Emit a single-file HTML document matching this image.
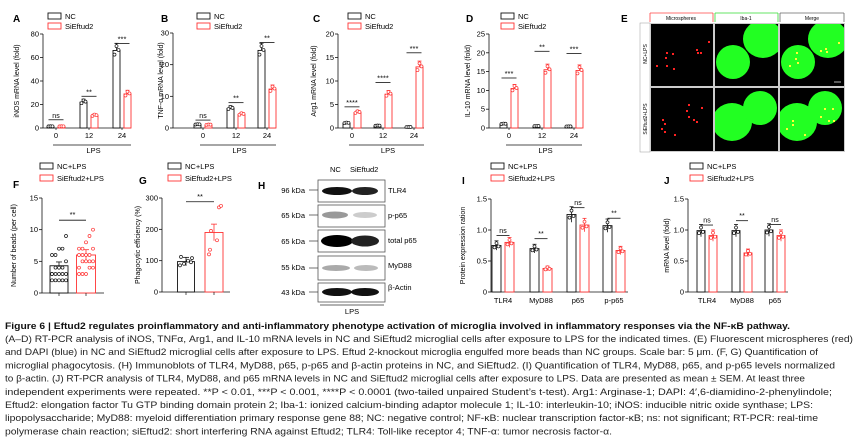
<!DOCTYPE html>
<html><head><meta charset="utf-8"><style>
html,body{margin:0;padding:0;background:#fff;}
svg{display:block;font-family:"Liberation Sans",Arial,sans-serif;}
</style></head><body>
<svg id="s" width="860" height="446" viewBox="0 0 860 446" xmlns="http://www.w3.org/2000/svg">
<defs>
<clipPath id="c1"><rect x="715" y="24" width="63" height="62"/></clipPath>
<clipPath id="c2"><rect x="780" y="24" width="64" height="62"/></clipPath>
<clipPath id="c3"><rect x="715" y="88" width="63" height="63"/></clipPath>
<clipPath id="c4"><rect x="780" y="88" width="64" height="63"/></clipPath>
</defs>
<rect width="860" height="446" fill="#fff"/>
<g>
<text x="621" y="22" font-size="10" font-weight="bold">E</text>
<line x1="650" y1="13" x2="650" y2="22" stroke="#f44" stroke-width="0.8"/><line x1="650" y1="13" x2="713" y2="13" stroke="#f44" stroke-width="0.8"/><line x1="713" y1="13" x2="713" y2="22" stroke="#f44" stroke-width="0.8"/>
<line x1="715" y1="13" x2="715" y2="22" stroke="#3d3" stroke-width="0.8"/><line x1="715" y1="13" x2="778" y2="13" stroke="#3d3" stroke-width="0.8"/><line x1="778" y1="13" x2="778" y2="22" stroke="#3d3" stroke-width="0.8"/>
<line x1="780" y1="13" x2="780" y2="22" stroke="#666" stroke-width="0.8"/><line x1="780" y1="13" x2="844" y2="13" stroke="#666" stroke-width="0.8"/><line x1="844" y1="13" x2="844" y2="22" stroke="#666" stroke-width="0.8"/>
<text x="681" y="20" font-size="5" text-anchor="middle">Microspheres</text>
<text x="746" y="20" font-size="5" text-anchor="middle">Iba-1</text>
<text x="812" y="20" font-size="5" text-anchor="middle">Merge</text>
<rect x="640" y="23" width="10" height="129" fill="#fff" stroke="#999" stroke-width="0.5"/>
<text transform="translate(647,54) rotate(-90)" font-size="5" text-anchor="middle">NC+LPS</text>
<text transform="translate(647,119) rotate(-90)" font-size="5" text-anchor="middle">SiEftud2+LPS</text>
<rect x="650" y="23" width="195" height="129" fill="#ccc"/>
<rect x="651" y="24" width="62" height="62" fill="#000"/><rect x="715" y="24" width="63" height="62" fill="#000"/><rect x="780" y="24" width="64" height="62" fill="#000"/>
<rect x="651" y="88" width="62" height="63" fill="#000"/><rect x="715" y="88" width="63" height="63" fill="#000"/><rect x="780" y="88" width="64" height="63" fill="#000"/>
<g fill="#2f2">
<g clip-path="url(#c1)"><ellipse cx="733" cy="62" rx="17" ry="17"/><ellipse cx="763" cy="39" rx="20" ry="19"/></g>
<g clip-path="url(#c2)"><ellipse cx="798" cy="62" rx="17" ry="17"/><ellipse cx="828" cy="39" rx="20" ry="19"/></g>
<g clip-path="url(#c3)"><ellipse cx="732" cy="122" rx="20" ry="19"/><ellipse cx="760" cy="108" rx="17" ry="17"/></g>
<g clip-path="url(#c4)"><ellipse cx="797" cy="122" rx="20" ry="19"/><ellipse cx="825" cy="108" rx="17" ry="17"/></g>
</g>
<g fill="#f22"><rect x="666" y="65" width="2" height="2"/><rect x="665" y="57" width="2" height="2"/><rect x="673" y="68" width="2" height="2"/><rect x="666" y="52" width="2" height="2"/><rect x="696" y="49" width="2" height="2"/><rect x="697" y="52" width="2" height="2"/><rect x="700" y="52" width="2" height="2"/><rect x="708" y="41" width="2" height="2"/>
<rect x="656" y="65" width="2" height="2"/><rect x="672" y="53" width="2" height="2"/>
<rect x="661" y="128" width="2" height="2"/><rect x="662" y="119" width="2" height="2"/><rect x="664" y="123" width="2" height="2"/><rect x="664" y="131" width="2" height="2"/><rect x="674" y="134" width="2" height="2"/><rect x="688" y="116" width="2" height="2"/><rect x="686" y="110" width="2" height="2"/><rect x="693" y="119" width="2" height="2"/><rect x="696" y="121" width="2" height="2"/><rect x="701" y="107" width="2" height="2"/><rect x="688" y="104" width="2" height="2"/></g>
<g fill="#ff3"><rect x="789" y="65" width="2" height="2"/><rect x="797" y="62" width="2" height="2"/><rect x="796" y="52" width="2" height="2"/><rect x="795" y="58" width="2" height="2"/><rect x="825" y="48" width="2" height="2"/><rect x="826" y="51" width="2" height="2"/><rect x="820" y="50" width="2" height="2"/><rect x="838" y="42" width="2" height="2"/>
<rect x="786" y="128" width="2" height="2"/><rect x="792" y="124" width="2" height="2"/><rect x="792" y="120" width="2" height="2"/><rect x="804" y="134" width="2" height="2"/><rect x="820" y="116" width="2" height="2"/><rect x="824" y="108" width="2" height="2"/><rect x="832" y="108" width="2" height="2"/><rect x="828" y="120" width="2" height="2"/><rect x="833" y="120" width="2" height="2"/></g>
<line x1="834" y1="82" x2="841" y2="82" stroke="#fff" stroke-width="0.7"/>
</g>
<g font-size="8">
<text x="258" y="189" font-size="10" font-weight="bold">H</text>
<text x="330" y="172" font-size="7.5">NC</text><text x="350" y="172" font-size="7.5">SiEftud2</text>
<rect x="318" y="180" width="67" height="22" fill="#fff" stroke="#555" stroke-width="0.8"/>
<rect x="318" y="205" width="67" height="22" fill="#fff" stroke="#555" stroke-width="0.8"/>
<rect x="318" y="230" width="67" height="22" fill="#fff" stroke="#555" stroke-width="0.8"/>
<rect x="318" y="256" width="67" height="24" fill="#fff" stroke="#555" stroke-width="0.8"/>
<rect x="318" y="283" width="67" height="19" fill="#fff" stroke="#555" stroke-width="0.8"/>
<ellipse cx="337" cy="191" rx="15" ry="4" fill="#111"/><ellipse cx="365" cy="191" rx="13" ry="4" fill="#222"/>
<ellipse cx="335" cy="215" rx="13" ry="3.5" fill="#999"/><ellipse cx="365" cy="215" rx="12" ry="3" fill="#ccc"/>
<ellipse cx="337" cy="241" rx="16" ry="6" fill="#000"/><ellipse cx="365" cy="241" rx="14" ry="5.5" fill="#222"/>
<ellipse cx="336" cy="268" rx="14" ry="3" fill="#aaa"/><ellipse cx="366" cy="268" rx="12" ry="3" fill="#bbb"/>
<ellipse cx="337" cy="292" rx="15" ry="4" fill="#111"/><ellipse cx="365" cy="292" rx="14" ry="4" fill="#111"/>
<g text-anchor="end" font-size="7.5"><text x="305" y="193">96 kDa</text><text x="305" y="218">65 kDa</text><text x="305" y="244">65 kDa</text><text x="305" y="270">55 kDa</text><text x="305" y="295">43 kDa</text></g>
<g stroke="#333" stroke-width="0.7"><line x1="309" y1="190" x2="318" y2="190"/><line x1="309" y1="215" x2="318" y2="215"/><line x1="309" y1="241" x2="318" y2="241"/><line x1="309" y1="268" x2="318" y2="268"/><line x1="309" y1="292" x2="318" y2="292"/><line x1="320" y1="305" x2="384" y2="305"/></g>
<g font-size="7.5"><text x="388" y="193">TLR4</text><text x="388" y="218">p-p65</text><text x="388" y="243">total p65</text><text x="388" y="268">MyD88</text><text x="388" y="290">β-Actin</text></g>
<text x="352" y="314" font-size="7.5" text-anchor="middle">LPS</text>
</g>
<g id="charts"></g>
<g id="cap" fill="#222"></g>
</svg>
<script>
var NS="http://www.w3.org/2000/svg",G=document.getElementById("charts");
function el(t,a,txt,p){var e=document.createElementNS(NS,t);for(var k in a)e.setAttribute(k,a[k]);if(txt!=null)e.textContent=txt;(p||G).appendChild(e);return e;}
function chart(o){
 var X0=o.x0,yT=o.yT,yB=o.yB,sc=function(v){return yB-(v/o.max)*(yB-yT);};
 el("text",{x:o.lx,y:o.ly,"font-size":10,"font-weight":"bold"},o.letter);
 el("rect",{x:o.legx,y:o.legy,width:13,height:6,fill:"none",stroke:"#111","stroke-width":0.9});
 el("rect",{x:o.legx,y:o.legy+10,width:13,height:6,fill:"none",stroke:"#f33","stroke-width":0.9});
 el("text",{x:o.legx+17,y:o.legy+6,"font-size":7.5},o.leg[0]);
 el("text",{x:o.legx+17,y:o.legy+16,"font-size":7.5},o.leg[1]);
 el("line",{x1:X0,y1:yT,x2:X0,y2:yB,stroke:"#111","stroke-width":0.8});
 el("line",{x1:X0,y1:yB,x2:o.xe,y2:yB,stroke:"#111","stroke-width":0.8});
 o.ticks.forEach(function(t){var y=sc(t);el("line",{x1:X0-3,y1:y,x2:X0,y2:y,stroke:"#111","stroke-width":0.8});el("text",{x:X0-4,y:y+2.5,"font-size":7.5,"text-anchor":"end"},t);});
 el("text",{transform:"translate("+(o.ylx)+","+((yT+yB)/2)+") rotate(-90)","font-size":7,"text-anchor":"middle"},o.ylab);
 o.groups.forEach(function(g,i){
  var c=o.cx[i];
  [[c-o.off,g[0],"#111"],[c+o.off,g[1],"#f33"]].forEach(function(b,j){
   var y=sc(b[1]);
   el("rect",{x:b[0]-o.bw/2,y:y,width:o.bw,height:yB-y,fill:"#fff",stroke:b[2],"stroke-width":0.9});
   var e=b[1]*0.08+o.max*0.01;
   el("line",{x1:b[0],y1:sc(b[1]+e),x2:b[0],y2:y,stroke:b[2],"stroke-width":0.8});
   el("line",{x1:b[0]-2,y1:sc(b[1]+e),x2:b[0]+2,y2:sc(b[1]+e),stroke:b[2],"stroke-width":0.8});
   var offs=[-2,0,2,0.5],dv=[-0.06,0.05,0,0.1];
   for(var k=0;k<3;k++)el("circle",{cx:b[0]+offs[k%4],cy:sc(Math.max(0,b[1]*(1+dv[k%4])))-0.5,r:1.5,fill:"#fff",stroke:b[2],"stroke-width":0.7});
  });
  var sy=sc(o.sig[i][1]);el("line",{x1:c-o.off-2,y1:sy,x2:c+o.off+2,y2:sy,stroke:"#111","stroke-width":0.8});
  el("text",{x:c,y:sy-2,"font-size":o.sig[i][0]=="ns"?7:7.5,"text-anchor":"middle"},o.sig[i][0]);
  el("text",{x:c,y:yB+10,"font-size":7.5,"text-anchor":"middle"},["0","12","24"][i]);
  el("line",{x1:c,y1:yB,x2:c,y2:yB+2,stroke:"#111","stroke-width":0.7});
 });
 el("line",{x1:o.cx[0]-3,y1:yB+17,x2:o.xe,y2:yB+17,stroke:"#111","stroke-width":0.8});
 el("text",{x:(o.cx[0]+o.xe)/2,y:yB+25,"font-size":7.5,"text-anchor":"middle"},"LPS");
}
var L=["NC","SiEftud2"];
chart({letter:"A",lx:13,ly:22,legx:48,legy:13,leg:L,x0:43,yT:34,yB:128,xe:131,max:80,ticks:[0,20,40,60,80],ylx:19,ylab:"iNOS mRNA level (fold)",cx:[56,89,122],off:5.5,bw:7,groups:[[1,1],[22,10.5],[66,29]],sig:[["ns",7],["**",27],["***",72]]});
chart({letter:"B",lx:161,ly:22,legx:197,legy:13,leg:L,x0:173,yT:33,yB:128,xe:276,max:30,ticks:[0,10,20,30],ylx:163,ylab:"TNF-α mRNA level (fold)",cx:[203,236,267],off:5.5,bw:7,groups:[[1,0.9],[6.2,4.3],[24.5,12.3]],sig:[["ns",2.5],["**",8],["**",27]]});
chart({letter:"C",lx:313,ly:22,legx:348,legy:13,leg:L,x0:338,yT:34,yB:128,xe:424,max:20,ticks:[0,5,10,15,20],ylx:316,ylab:"Arg1 mRNA level (fold)",cx:[352,383,414],off:5.5,bw:7,groups:[[1,3.3],[0.4,7.2],[0.1,13]],sig:[["****",4.5],["****",9.7],["***",16]]});
chart({letter:"D",lx:466,ly:22,legx:501,legy:13,leg:L,x0:489,yT:34,yB:128,xe:582,max:25,ticks:[0,5,10,15,20,25],ylx:470,ylab:"IL-10 mRNA level (fold)",cx:[509,542,574],off:5.5,bw:7,groups:[[1,10.5],[0.4,15.5],[0.3,15.3]],sig:[["***",13.3],["**",20.4],["***",19.8]]});
function single(o){
 var X0=o.x0,yT=o.yT,yB=o.yB,sc=function(v){return yB-(v/o.max)*(yB-yT);};
 el("text",{x:o.lx,y:o.ly,"font-size":10,"font-weight":"bold"},o.letter);
 el("rect",{x:o.legx,y:o.legy,width:13,height:6,fill:"none",stroke:"#111","stroke-width":0.9});
 el("rect",{x:o.legx,y:o.legy+12,width:13,height:6,fill:"none",stroke:"#f33","stroke-width":0.9});
 el("text",{x:o.legx+17,y:o.legy+6,"font-size":7.5},"NC+LPS");
 el("text",{x:o.legx+17,y:o.legy+18,"font-size":7.5},"SiEftud2+LPS");
 el("line",{x1:X0,y1:yT,x2:X0,y2:yB,stroke:"#111","stroke-width":0.8});
 el("line",{x1:X0,y1:yB,x2:o.xe,y2:yB,stroke:"#111","stroke-width":0.8});
 o.ticks.forEach(function(t){var y=sc(t);el("line",{x1:X0-3,y1:y,x2:X0,y2:y,stroke:"#111","stroke-width":0.8});el("text",{x:X0-4,y:y+2.5,"font-size":7.5,"text-anchor":"end"},t);});
 el("text",{transform:"translate("+o.ylx+","+((yT+yB)/2)+") rotate(-90)","font-size":7,"text-anchor":"middle"},o.ylab);
 o.bars.forEach(function(b){var y=sc(b.v);
  el("rect",{x:b.x-b.w/2,y:y,width:b.w,height:yB-y,fill:"#fff",stroke:b.c,"stroke-width":0.9});
  el("line",{x1:b.x,y1:sc(b.v*1.14),x2:b.x,y2:sc(b.v*0.86),stroke:b.c,"stroke-width":0.8});
  el("line",{x1:b.x-3,y1:sc(b.v*1.14),x2:b.x+3,y2:sc(b.v*1.14),stroke:b.c,"stroke-width":0.8});
  el("line",{x1:b.x,y1:yB,x2:b.x,y2:yB+3,stroke:"#111","stroke-width":0.7});
  b.d.forEach(function(p){el("circle",{cx:b.x+p[0],cy:sc(p[1]),r:1.5,fill:"#fff",stroke:b.c,"stroke-width":0.7});});
 });
 var sy=sc(o.sig);el("line",{x1:o.bars[0].x,y1:sy,x2:o.bars[1].x,y2:sy,stroke:"#111","stroke-width":0.8});
 el("text",{x:(o.bars[0].x+o.bars[1].x)/2,y:sy-3,"font-size":7.5,"text-anchor":"middle"},"**");
}
var fN=[],fR=[];[2,2,2,2,2,3,3,3,3,3,3,4,4,4,5,6,6,7,7,9].forEach(function(v,i){fN.push([(i%5-2)*3.5,v]);});
[3,3,3,4,4,4,5,5,5,5,6,6,6,6,7,7,7,8,9,10].forEach(function(v,i){fR.push([(i%5-2)*3.5,v]);});
single({letter:"F",lx:13,ly:188,legx:40,legy:163,x0:42,yT:198,yB:293,xe:104,max:15,ticks:[0,5,10,15],ylx:16,ylab:"Number of beads (per cell)",sig:11.5,
 bars:[{x:59,w:18,v:4.3,c:"#111",d:fN},{x:86,w:19,v:6.0,c:"#f33",d:fR}]});
single({letter:"G",lx:139,ly:184,legx:168,legy:163,x0:162,yT:198,yB:292,xe:230,max:300,ticks:[0,100,200,300],ylx:140,ylab:"Phagocytic efficiency (%)",sig:288,
 bars:[{x:186,w:17,v:97,c:"#111",d:[[-5,112],[-2,90],[2,100],[5,95],[-6,85],[6,108]]},{x:214,w:18,v:190,c:"#f33",d:[[-5,120],[-4,135],[3,165],[5,270],[7,275],[-3,195]]}]});
function grp(o){
 var X0=o.x0,yT=o.yT,yB=o.yB,sc=function(v){return yB-(v/1.5)*(yB-yT);};
 el("text",{x:o.lx,y:o.ly,"font-size":10,"font-weight":"bold"},o.letter);
 el("rect",{x:o.legx,y:o.legy,width:13,height:6,fill:"none",stroke:"#111","stroke-width":0.9});
 el("rect",{x:o.legx,y:o.legy+12,width:13,height:6,fill:"none",stroke:"#f33","stroke-width":0.9});
 el("text",{x:o.legx+17,y:o.legy+6,"font-size":7.5},"NC+LPS");
 el("text",{x:o.legx+17,y:o.legy+18,"font-size":7.5},"SiEftud2+LPS");
 el("line",{x1:X0,y1:yT,x2:X0,y2:yB,stroke:"#111","stroke-width":0.8});
 el("line",{x1:X0,y1:yB,x2:o.xe,y2:yB,stroke:"#111","stroke-width":0.8});
 [[0,"0"],[0.5,"0.5"],[1,"1.0"],[1.5,"1.5"]].forEach(function(t){var y=sc(t[0]);el("line",{x1:X0-3,y1:y,x2:X0,y2:y,stroke:"#111","stroke-width":0.8});el("text",{x:X0-4,y:y+2.5,"font-size":7.5,"text-anchor":"end"},t[1]);});
 el("text",{transform:"translate("+o.ylx+","+((yT+yB)/2)+") rotate(-90)","font-size":7,"text-anchor":"middle"},o.ylab);
 o.g.forEach(function(g,i){var c=o.cx[i];
  [[c-o.off,g[0],"#111"],[c+o.off,g[1],"#f33"]].forEach(function(b){var y=sc(b[1]);
   el("rect",{x:b[0]-o.bw/2,y:y,width:o.bw,height:yB-y,fill:"#fff",stroke:b[2],"stroke-width":0.9});
   var e=b[1]*0.1;el("line",{x1:b[0],y1:sc(b[1]+e),x2:b[0],y2:sc(b[1]-e),stroke:b[2],"stroke-width":0.8});
   el("line",{x1:b[0]-2,y1:sc(b[1]+e),x2:b[0]+2,y2:sc(b[1]+e),stroke:b[2],"stroke-width":0.8});
   [[-2,0.96],[0,1.05],[2,0.98]].forEach(function(p){el("circle",{cx:b[0]+p[0],cy:sc(b[1]*p[1]),r:1.5,fill:"#fff",stroke:b[2],"stroke-width":0.7});});
  });
  var sy=sc(g[2]);el("line",{x1:c-o.off,y1:sy,x2:c+o.off,y2:sy,stroke:"#111","stroke-width":0.8});
  el("text",{x:c,y:sy-2.5,"font-size":7,"text-anchor":"middle"},g[3]);
  el("text",{x:c,y:yB+11,"font-size":7.5,"text-anchor":"middle"},o.xl[i]);
 });
}
grp({letter:"I",lx:462,ly:184,legx:491,legy:163,x0:491,yT:199,yB:292,xe:628,ylx:465,ylab:"Protein expression ration",cx:[503,541,578,614],off:6.5,bw:9,
 g:[[0.75,0.8,0.91,"ns"],[0.7,0.38,0.86,"**"],[1.25,1.08,1.36,"ns"],[1.07,0.67,1.19,"**"]],xl:["TLR4","MyD88","p65","p-p65"]});
grp({letter:"J",lx:664,ly:184,legx:690,legy:163,x0:688,yT:199,yB:292,xe:788,ylx:669,ylab:"mRNA level (fold)",cx:[707,742,775],off:6,bw:8,
 g:[[0.99,0.91,1.08,"ns"],[0.99,0.63,1.15,"**"],[1.0,0.91,1.09,"ns"]],xl:["TLR4","MyD88","p65"]});
var C=document.getElementById("cap");
var t=el("text",{x:5,y:329,"font-size":9.6,"font-weight":"bold",fill:"#111",textLength:785,lengthAdjust:"spacingAndGlyphs"},null,C);
t.textContent="Figure 6  |  Eftud2 regulates proinflammatory and anti-inflammatory phenotype activation of microglia involved in inflammatory responses via the NF-κB pathway.";
var lines=[["(A–D) RT-PCR analysis of iNOS, TNFα, Arg1, and IL-10 mRNA levels in NC and SiEftud2 microglial cells after exposure to LPS for the indicated times. (E) Fluorescent microspheres (red)",853],
["and DAPI (blue) in NC and SiEftud2 microglial cells after exposure to LPS. Eftud 2-knockout microglia engulfed more beads than NC groups. Scale bar: 5 μm. (F, G) Quantification of",818],
["microglial phagocytosis. (H) Immunoblots of TLR4, MyD88, p65, p-p65 and β-actin proteins in NC, and SiEftud2. (I) Quantification of TLR4, MyD88, p65, and p-p65 levels normalized",835],
["to β-actin. (J) RT-PCR analysis of TLR4, MyD88, and p65 mRNA levels in NC and SiEftud2 microglial cells after exposure to LPS. Data are presented as mean ± SEM. At least three",805],
["independent experiments were repeated. **P < 0.01, ***P < 0.001, ****P < 0.0001 (two-tailed unpaired Student’s t-test). Arg1: Arginase-1; DAPI: 4′,6-diamidino-2-phenylindole;",832],
["Eftud2: elongation factor Tu GTP binding domain protein 2; Iba-1: ionized calcium-binding adaptor molecule 1; IL-10: interleukin-10; iNOS: inducible nitric oxide synthase; LPS:",813],
["lipopolysaccharide; MyD88: myeloid differentiation primary response gene 88; NC: negative control; NF-κB: nuclear transcription factor-κB; ns: not significant; RT-PCR: real-time",818],
["polymerase chain reaction; siEftud2: short interfering RNA against Eftud2; TLR4: Toll-like receptor 4; TNF-α: tumor necrosis factor-α.",612]];
lines.forEach(function(l,i){el("text",{x:5,y:342+i*13.2,"font-size":9.4,textLength:l[1]-5,lengthAdjust:"spacingAndGlyphs"},l[0],C);});
</script>
</body></html>
